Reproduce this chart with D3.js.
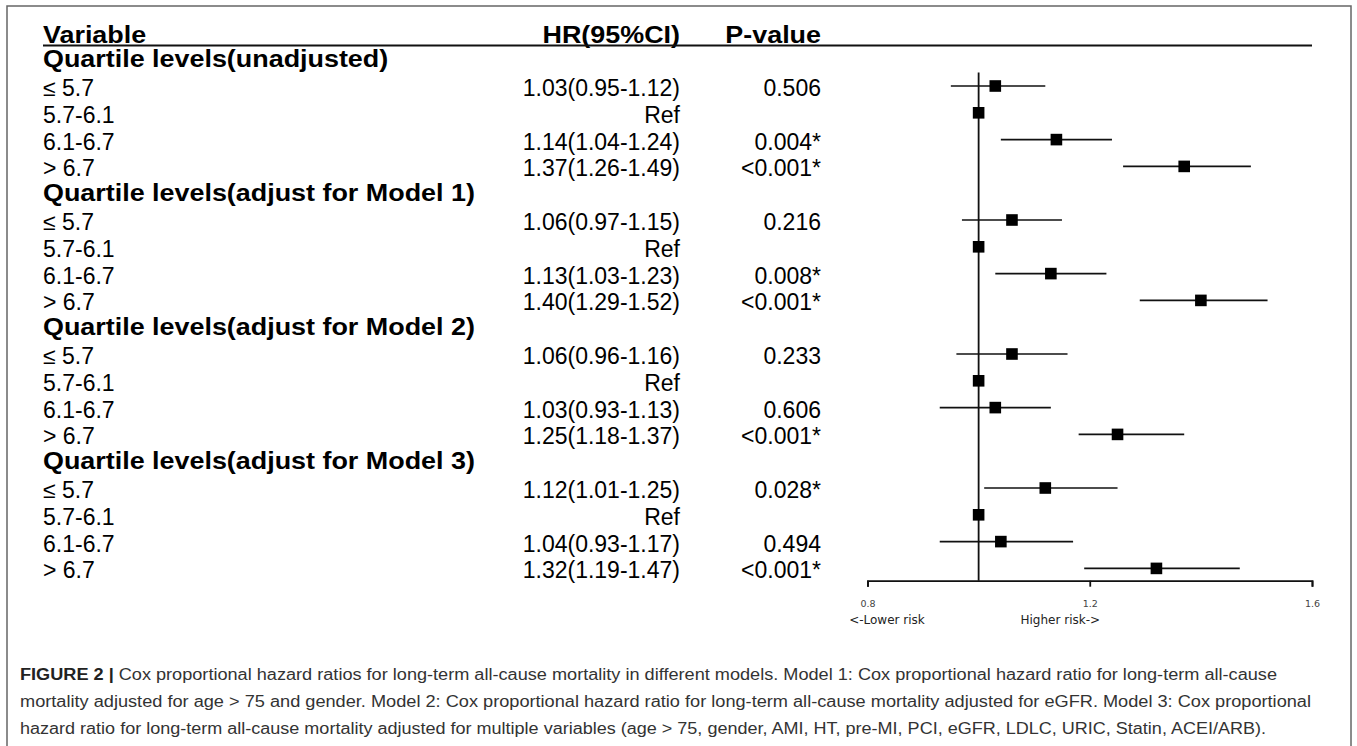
<!DOCTYPE html>
<html>
<head>
<meta charset="utf-8">
<script src="https://cdnjs.cloudflare.com/ajax/libs/d3/7.8.5/d3.min.js"></script>
<style>
  body { margin: 0; background: #fff; font-family: 'Liberation Sans', Arial, sans-serif; }
</style>
</head>
<body>
<svg id="chart" width="1357" height="746"></svg>
<script>
// table data
var groups = ["Quartile levels(unadjusted)", "Quartile levels(adjust for Model 1)",
              "Quartile levels(adjust for Model 2)", "Quartile levels(adjust for Model 3)"];
var levels = ["≤ 5.7", "5.7-6.1", "6.1-6.7", "> 6.7"];
var hr    = [[1.03, 1, 1.14, 1.37], [1.06, 1, 1.13, 1.40], [1.06, 1, 1.03, 1.25], [1.12, 1, 1.04, 1.32]];
var lower = [[0.95, null, 1.04, 1.26], [0.97, null, 1.03, 1.29], [0.96, null, 0.93, 1.18], [1.01, null, 0.93, 1.19]];
var upper = [[1.12, null, 1.24, 1.49], [1.15, null, 1.23, 1.52], [1.16, null, 1.13, 1.37], [1.25, null, 1.17, 1.47]];
var pValues = [["0.506", "", "0.004*", "<0.001*"], ["0.216", "", "0.008*", "<0.001*"],
               ["0.233", "", "0.606", "<0.001*"], ["0.028*", "", "0.494", "<0.001*"]];
var xTicks = [0.8, 1.2, 1.6];
var captionLines = [
  "Cox proportional hazard ratios for long-term all-cause mortality in different models. Model 1: Cox proportional hazard ratio for long-term all-cause",
  "mortality adjusted for age > 75 and gender. Model 2: Cox proportional hazard ratio for long-term all-cause mortality adjusted for eGFR. Model 3: Cox proportional",
  "hazard ratio for long-term all-cause mortality adjusted for multiple variables (age > 75, gender, AMI, HT, pre-MI, PCI, eGFR, LDLC, URIC, Statin, ACEI/ARB)."
];

// flatten into rows (group header + 4 levels each)
var rows = [];
groups.forEach(function (g, gi) {
  rows.push({header: true, label: g});
  levels.forEach(function (lv, li) {
    var isRef = lower[gi][li] === null;
    rows.push({
      header: false, label: lv, hr: hr[gi][li], lo: lower[gi][li], hi: upper[gi][li],
      text: isRef ? "Ref" : hr[gi][li].toFixed(2) + "(" + lower[gi][li].toFixed(2) + "-" + upper[gi][li].toFixed(2) + ")",
      p: pValues[gi][li]
    });
  });
});

var svg = d3.select("#chart");

// frame
svg.append("rect")
  .attr("x", 7).attr("y", 6).attr("width", 1344).attr("height", 760)
  .attr("fill", "none").attr("stroke", "#666").attr("stroke-width", 1.5);

var x = d3.scaleLinear().domain([0.8, 1.6]).range([867.5, 1312]);
var y = d3.scalePoint().domain(d3.range(rows.length)).range([59.2, 568.4]);

var colVar = 43, colHR = 680, colP = 821, bigFont = 23, stretch = 1.17;

// header
function boldText(t, px, py, anchor) {
  svg.append("text")
    .attr("transform", "translate(" + px + "," + py + ") scale(" + stretch + ",1)")
    .attr("text-anchor", anchor)
    .attr("font-size", bigFont).attr("font-weight", "bold").attr("fill", "#000")
    .text(t);
}
boldText("Variable", colVar, 43, "start");
boldText("HR(95%CI)", colHR, 43, "end");
boldText("P-value", colP, 43, "end");
svg.append("line")
  .attr("x1", colVar).attr("x2", x(1.6)).attr("y1", 45.5).attr("y2", 45.5)
  .attr("stroke", "#111").attr("stroke-width", 2);

// table rows
rows.forEach(function (r, i) {
  if (r.header) {
    boldText(r.label, colVar, y(i) + 7.5, "start");
    return;
  }
  var by = y(i) + 10;
  svg.append("text").attr("x", colVar).attr("y", by).attr("font-size", bigFont).text(r.label);
  svg.append("text").attr("x", colHR).attr("y", by).attr("font-size", bigFont)
    .attr("text-anchor", "end").text(r.text);
  svg.append("text").attr("x", colP).attr("y", by).attr("font-size", bigFont)
    .attr("text-anchor", "end").text(r.p);
});

// forest plot
var plot = svg.append("g");
var axisY = 580.7;

plot.append("line")
  .attr("x1", x(1)).attr("x2", x(1))
  .attr("y1", (y(0) + y(1)) / 2).attr("y2", axisY)
  .attr("stroke", "#111").attr("stroke-width", 1.8);

var data = rows.map(function (r, i) { return Object.assign({i: i}, r); }).filter(function (r) { return !r.header; });

plot.selectAll(".ci")
  .data(data.filter(function (d) { return d.lo !== null; }))
  .enter().append("line")
  .attr("x1", function (d) { return x(d.lo); })
  .attr("x2", function (d) { return x(d.hi); })
  .attr("y1", function (d) { return y(d.i); })
  .attr("y2", function (d) { return y(d.i); })
  .attr("stroke", "#111").attr("stroke-width", 1.7);

var sq = 11.6;
plot.selectAll(".pt")
  .data(data)
  .enter().append("rect")
  .attr("x", function (d) { return x(d.hr) - sq / 2; })
  .attr("y", function (d) { return y(d.i) - sq / 2; })
  .attr("width", sq).attr("height", sq)
  .attr("fill", "#000");

// x axis
var axis = plot.append("g")
  .attr("transform", "translate(0," + axisY + ")")
  .call(d3.axisBottom(x).tickValues(xTicks).tickSize(6).tickSizeOuter(6).tickFormat(d3.format(".1f")));
axis.select(".domain").attr("stroke", "#111").attr("stroke-width", 1.8);
axis.selectAll(".tick line").attr("stroke", "#111").attr("stroke-width", 1.8);
axis.selectAll(".tick text")
  .attr("y", 26).attr("dy", null)
  .attr("font-family", "'DejaVu Sans', sans-serif").attr("font-size", 9.5).attr("fill", "#444");

plot.append("text")
  .attr("x", x(0.835)).attr("y", axisY + 43).attr("text-anchor", "middle")
  .attr("font-family", "'DejaVu Sans', sans-serif").attr("font-size", 12).attr("fill", "#222")
  .text("<-Lower risk");
plot.append("text")
  .attr("x", x(1.147)).attr("y", axisY + 43).attr("text-anchor", "middle")
  .attr("font-family", "'DejaVu Sans', sans-serif").attr("font-size", 12).attr("fill", "#222")
  .text("Higher risk->");

// caption
var capWidths = [1257, 1291, 1246];
captionLines.forEach(function (line, i) {
  var t = svg.append("text")
    .attr("x", 20).attr("y", 680 + i * 27)
    .attr("font-size", 16).attr("fill", "#333")
    .attr("textLength", capWidths[i]).attr("lengthAdjust", "spacingAndGlyphs");
  if (i === 0) {
    t.append("tspan").attr("font-weight", "bold").attr("fill", "#222").text("FIGURE 2 | ");
  }
  t.append("tspan").text(line);
});
</script>
</body>
</html>
